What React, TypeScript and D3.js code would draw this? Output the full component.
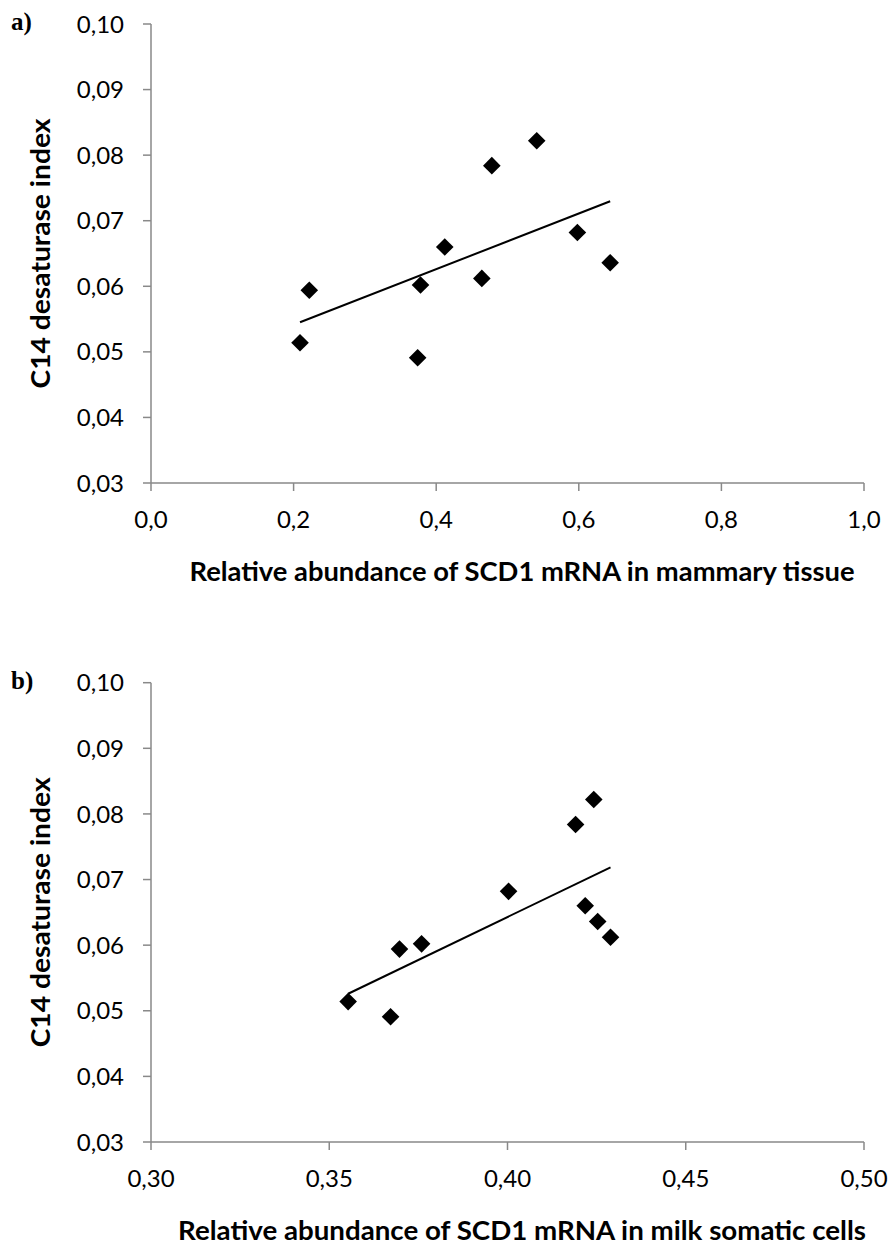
import React from "react";
import * as d3 from "d3";

// Chart a: mammary tissue
const tissueX = [0.209, 0.222, 0.374, 0.378, 0.412, 0.464, 0.478, 0.541, 0.598, 0.644];
const desatY = [0.0514, 0.0594, 0.0491, 0.0602, 0.0660, 0.0612, 0.0784, 0.0822, 0.0682, 0.0636];
// Chart b: milk somatic cells
const milkX = [0.3553, 0.3672, 0.3697, 0.3759, 0.4003, 0.4191, 0.4218, 0.4242, 0.4253, 0.4289];
const milkY = [0.0514, 0.0491, 0.0594, 0.0602, 0.0682, 0.0784, 0.0660, 0.0822, 0.0636, 0.0612];

const yTicks = [0.03, 0.04, 0.05, 0.06, 0.07, 0.08, 0.09, 0.10];
const xTicksA = [0.0, 0.2, 0.4, 0.6, 0.8, 1.0];
const xTicksB = [0.30, 0.35, 0.40, 0.45, 0.50];

const FONT = "Lato, 'Open Sans', sans-serif";
const AXIS = "#898989";

function regression(xs: number[], ys: number[]) {
  const mx = d3.mean(xs)!;
  const my = d3.mean(ys)!;
  let sxy = 0, sxx = 0;
  xs.forEach((x, i) => {
    sxy += (x - mx) * (ys[i] - my);
    sxx += (x - mx) * (x - mx);
  });
  const b = sxy / sxx;
  return (x: number) => my + b * (x - mx);
}

function Panel(props: {
  top: number;
  bottom: number;
  label: string;
  xs: number[];
  ys: number[];
  xDomain: [number, number];
  xTicks: number[];
  xDigits: number;
  xTitle: string;
  xTitleLen: number;
}) {
  const { top, bottom, label, xs, ys, xDomain, xTicks, xDigits, xTitle, xTitleLen } = props;
  const left = 151, right = 864;
  const x = d3.scaleLinear().domain(xDomain).range([left, right]);
  const y = d3.scaleLinear().domain([0.03, 0.10]).range([bottom, top]);
  const fmt = (v: number, d: number) => v.toFixed(d).replace(".", ",");
  const fit = regression(xs, ys);
  const x0 = d3.min(xs)!, x1 = d3.max(xs)!;
  const line = d3.line<number>().x((v) => x(v)).y((v) => y(fit(v)));
  const r = 8.8;
  const diamond = (cx: number, cy: number) =>
    `M${cx},${cy - r}L${cx + r},${cy}L${cx},${cy + r}L${cx - r},${cy}Z`;
  return (
    <g>
      <text x={11} y={top + 6} fontFamily="'Liberation Serif', 'DejaVu Serif', serif" fontWeight="bold" fontSize={25} fill="#000">
        {label}
      </text>
      {/* y axis */}
      <line x1={left} x2={left} y1={top} y2={bottom} stroke={AXIS} strokeWidth={1.5} />
      {yTicks.map((t) => (
        <g key={t}>
          <line x1={left - 8} x2={left} y1={y(t)} y2={y(t)} stroke={AXIS} strokeWidth={1.5} />
          <text x={124} y={y(t)} dy="0.36em" textAnchor="end" fontFamily={FONT} fontSize={24} fill="#000">
            {fmt(t, 2)}
          </text>
        </g>
      ))}
      {/* x axis */}
      <line x1={left} x2={right} y1={bottom} y2={bottom} stroke={AXIS} strokeWidth={1.5} />
      {xTicks.map((t) => (
        <g key={t}>
          <line x1={x(t)} x2={x(t)} y1={bottom} y2={bottom + 8} stroke={AXIS} strokeWidth={1.5} />
          <text x={x(t)} y={bottom + 45} textAnchor="middle" fontFamily={FONT} fontSize={24} fill="#000">
            {fmt(t, xDigits)}
          </text>
        </g>
      ))}
      <text
        transform={`translate(50,${(top + bottom) / 2}) rotate(-90)`}
        textAnchor="middle"
        fontFamily={FONT}
        fontWeight="bold"
        fontSize={27}
        textLength={270}
        lengthAdjust="spacingAndGlyphs"
        fill="#000"
      >
        C14 desaturase index
      </text>
      <text
        x={522}
        y={bottom + 98}
        textAnchor="middle"
        fontFamily={FONT}
        fontWeight="bold"
        fontSize={27}
        textLength={xTitleLen}
        lengthAdjust="spacingAndGlyphs"
        fill="#000"
      >
        {xTitle}
      </text>
      <path d={line([x0, x1]) || ""} fill="none" stroke="#000" strokeWidth={2} />
      {xs.map((v, i) => (
        <path key={i} d={diamond(x(v), y(ys[i]))} fill="#000" />
      ))}
    </g>
  );
}

export default function App() {
  return (
    <svg
      width={894}
      height={1253}
      viewBox="0 0 894 1253"
      style={{ position: "absolute", left: 0, top: 0, background: "#fff" }}
    >
      <rect width={894} height={1253} fill="#fff" />
      <Panel
        top={24}
        bottom={483}
        label="a)"
        xs={tissueX}
        ys={desatY}
        xDomain={[0, 1]}
        xTicks={xTicksA}
        xDigits={1}
        xTitle="Relative abundance of SCD1 mRNA in mammary tissue"
        xTitleLen={665}
      />
      <Panel
        top={682.7}
        bottom={1142}
        label="b)"
        xs={milkX}
        ys={milkY}
        xDomain={[0.3, 0.5]}
        xTicks={xTicksB}
        xDigits={2}
        xTitle="Relative abundance of SCD1 mRNA in milk somatic cells"
        xTitleLen={688}
      />
    </svg>
  );
}
